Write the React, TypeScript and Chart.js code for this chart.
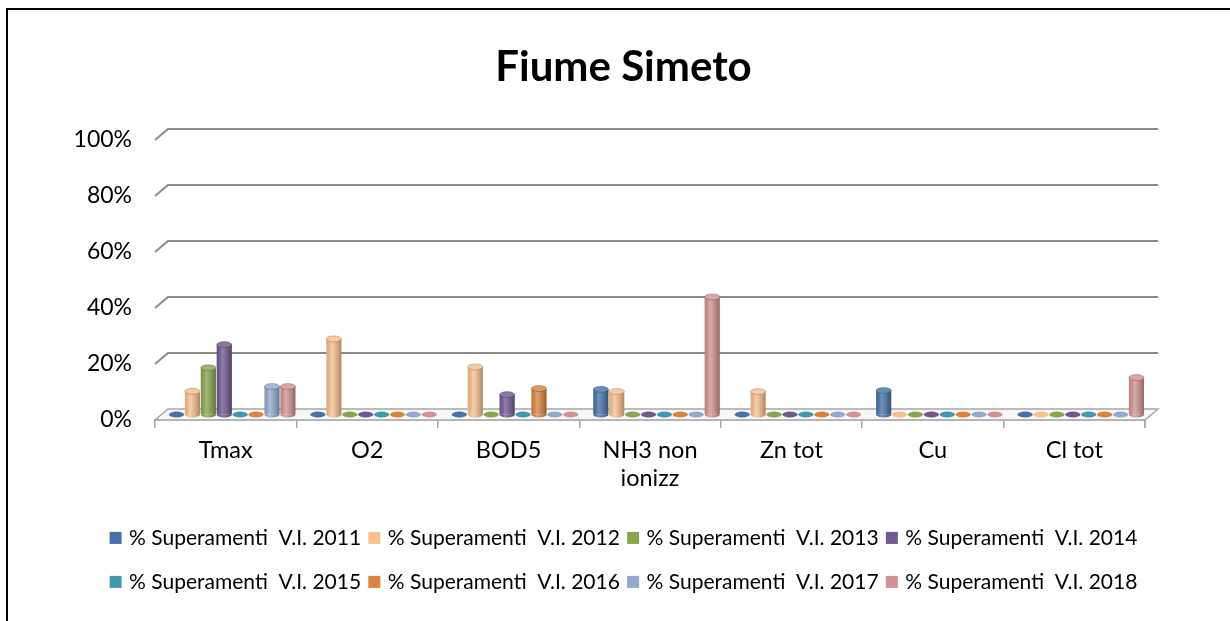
import React, { useEffect, useRef } from 'react';
import { Chart, registerables } from 'chart.js';

Chart.register(...registerables);

const categories: (string | string[])[] = ['Tmax', 'O2', 'BOD5', ['NH3 non', 'ionizz'], 'Zn tot', 'Cu', 'Cl tot'];
const seriesNames = [
  '% Superamenti  V.I. 2011',
  '% Superamenti  V.I. 2012',
  '% Superamenti  V.I. 2013',
  '% Superamenti  V.I. 2014',
  '% Superamenti  V.I. 2015',
  '% Superamenti  V.I. 2016',
  '% Superamenti  V.I. 2017',
  '% Superamenti  V.I. 2018',
];
const v2011 = [0, 0, 0, 9, 0, 8.6, 0];
const v2012 = [8.3, 27, 17, 8.2, 8.2, 0, 0];
const v2013 = [16.7, 0, 0, 0, 0, 0, 0];
const v2014 = [25, 0, 7.1, 0, 0, 0, 0];
const v2015 = [0, 0, 0, 0, 0, 0, 0];
const v2016 = [0, 0, 9.3, 0, 0, 0, 0];
const v2017 = [10, 0, 0, 0, 0, 0, 0];
const v2018 = [10, 0, 0, 42, 0, 0, 13.2];
const seriesValues = [v2011, v2012, v2013, v2014, v2015, v2016, v2017, v2018];
const seriesColors = ['#4572A7', '#F9C08F', '#89A54E', '#71588F', '#4198AF', '#DB843D', '#93A9CF', '#D19392'];
const yTicks = [0, 20, 40, 60, 80, 100];

const DX = 13;
const DY = 11;
const FONT = 'Lato, "Open Sans", sans-serif';
const LEGEND_FONT = 21;
const LEGEND_PAD = 7.2;
const LEGEND_ITEM_H = 36.8;

const deco3d = {
  id: 'deco3d',
  afterLayout(chart: any) {
    // let the y tick labels use the space to the left of the axis box
    chart.scales.y.left = 0;
  },
  beforeDatasetsDraw(chart: any) {
    const { ctx, chartArea: a, scales } = chart;
    const y = scales.y;
    ctx.save();
    ctx.beginPath();
    ctx.moveTo(a.left, a.bottom);
    ctx.lineTo(a.right, a.bottom);
    ctx.lineTo(a.right + DX, a.bottom - DY);
    ctx.lineTo(a.left + DX, a.bottom - DY);
    ctx.closePath();
    ctx.fillStyle = '#f7f7f7';
    ctx.fill();
    ctx.strokeStyle = '#a6a6a6';
    ctx.lineWidth = 1.5;
    ctx.stroke();
    ctx.strokeStyle = '#8a8a8a';
    ctx.lineWidth = 2;
    for (const v of yTicks) {
      if (v === 0) continue;
      const py = y.getPixelForValue(v);
      ctx.beginPath();
      ctx.moveTo(a.left, py);
      ctx.lineTo(a.left + DX, py - DY);
      ctx.lineTo(a.right + DX, py - DY);
      ctx.stroke();
    }
    ctx.strokeStyle = '#a6a6a6';
    ctx.lineWidth = 1.5;
    ctx.beginPath();
    ctx.moveTo(a.right, a.bottom);
    ctx.lineTo(a.right, a.bottom + 8);
    ctx.stroke();
    ctx.restore();
    ctx.save();
    ctx.translate(DX / 2, -DY / 2);
  },
  afterDatasetsDraw(chart: any) {
    const { ctx } = chart;
    chart.data.datasets.forEach((ds: any, di: number) => {
      const meta = chart.getDatasetMeta(di);
      const color = ds.backgroundColor as string;
      meta.data.forEach((el: any) => {
        const { x, y, base, width } = el.getProps(['x', 'y', 'base', 'width'], true);
        const rx = width / 2;
        const ry = 3;
        if (base - y > 0.5) {
          ctx.beginPath();
          ctx.ellipse(x, base, rx, ry, 0, 0, Math.PI);
          ctx.fillStyle = color;
          ctx.fill();
          const g = ctx.createLinearGradient(x - rx, 0, x + rx, 0);
          g.addColorStop(0, 'rgba(0,0,0,0.10)');
          g.addColorStop(0.35, 'rgba(255,255,255,0.22)');
          g.addColorStop(1, 'rgba(0,0,0,0.30)');
          ctx.fillStyle = g;
          ctx.beginPath();
          ctx.rect(x - rx, y, width, base - y);
          ctx.ellipse(x, base, rx, ry, 0, 0, Math.PI);
          ctx.fill();
          ctx.beginPath();
          ctx.ellipse(x, y, rx, ry, 0, 0, Math.PI * 2);
          ctx.fillStyle = color;
          ctx.fill();
          ctx.fillStyle = 'rgba(255,255,255,0.18)';
          ctx.fill();
          ctx.strokeStyle = 'rgba(0,0,0,0.25)';
          ctx.lineWidth = 0.8;
          ctx.stroke();
        } else {
          ctx.beginPath();
          ctx.ellipse(x, base, rx, ry, 0, 0, Math.PI * 2);
          ctx.fillStyle = color;
          ctx.fill();
        }
      });
    });
    ctx.restore();
  },
  afterDraw(chart: any) {
    const lg = chart.legend;
    if (!lg || !lg.legendHitBoxes) return;
    const { ctx } = chart;
    ctx.save();
    lg.legendHitBoxes.forEach((hb: any, i: number) => {
      ctx.fillStyle = seriesColors[i];
      ctx.fillRect(hb.left, hb.top + hb.height / 2 - 6, 12, 12);
    });
    ctx.restore();
  },
};

export default function App() {
  const canvasRef = useRef<HTMLCanvasElement | null>(null);

  useEffect(() => {
    const canvas = canvasRef.current;
    if (!canvas) return;
    const chart = new Chart(canvas, {
      type: 'bar',
      data: {
        labels: categories as any,
        datasets: seriesNames.map((name, i) => ({
          label: name,
          data: seriesValues[i],
          backgroundColor: seriesColors[i],
          borderWidth: 0,
          categoryPercentage: 0.9,
          barPercentage: 0.95,
          clip: false as any,
        })),
      },
      options: {
        animation: false,
        responsive: false,
        maintainAspectRatio: false,
        layout: { padding: { left: 102, right: 85, top: 0, bottom: 10.7 } },
        plugins: {
          title: {
            display: true,
            text: 'Fiume Simeto',
            color: '#000',
            font: { family: FONT, size: 42, weight: 'bold', lineHeight: 1.2 },
            padding: { top: 42, bottom: 47.6 },
          },
          legend: {
            position: 'bottom',
            labels: {
              color: '#000',
              font: { family: FONT, size: LEGEND_FONT },
              boxWidth: 9,
              boxHeight: LEGEND_ITEM_H,
              padding: LEGEND_PAD,
              generateLabels: (c: any) => {
                const items = (Chart.defaults.plugins.legend.labels as any).generateLabels(c);
                return items.map((it: any) => ({
                  ...it,
                  fillStyle: 'rgba(0,0,0,0)',
                  strokeStyle: 'rgba(0,0,0,0)',
                  lineWidth: 0,
                }));
              },
            },
          },
          tooltip: { enabled: false },
        },
        scales: {
          x: {
            grid: {
              display: true,
              drawOnChartArea: false,
              drawTicks: true,
              tickLength: 8,
              color: '#a6a6a6',
              lineWidth: 1.5,
              offset: true,
            },
            border: { display: true, color: '#a6a6a6', width: 1.5 },
            ticks: {
              color: '#000',
              font: { family: FONT, size: 23.5, lineHeight: 1.2 },
              padding: 8,
              maxRotation: 0,
              autoSkip: false,
            },
            afterFit(scale: any) {
              scale.height = 92.3;
            },
          },
          y: {
            min: 0,
            max: 100,
            grid: { display: false, drawTicks: false },
            border: { display: false },
            ticks: {
              stepSize: 20,
              color: '#000',
              font: { family: FONT, size: 23 },
              padding: 23,
              callback: (v: any) => `${v}%`,
            },
            afterFit(scale: any) {
              scale.width = 53;
            },
          },
        },
      },
      plugins: [deco3d],
    });
    return () => chart.destroy();
  }, []);

  return (
    <div style={{ position: 'fixed', left: 0, top: 0, width: 1230, height: 621, background: '#fff' }}>
      <canvas ref={canvasRef} width={1230} height={621} style={{ position: 'absolute', left: 0, top: 0 }} />
      <div
        style={{
          position: 'absolute',
          left: 6,
          top: 8,
          width: 1300,
          height: 700,
          borderTop: '2px solid #000',
          borderLeft: '2px solid #000',
          pointerEvents: 'none',
        }}
      />
    </div>
  );
}
